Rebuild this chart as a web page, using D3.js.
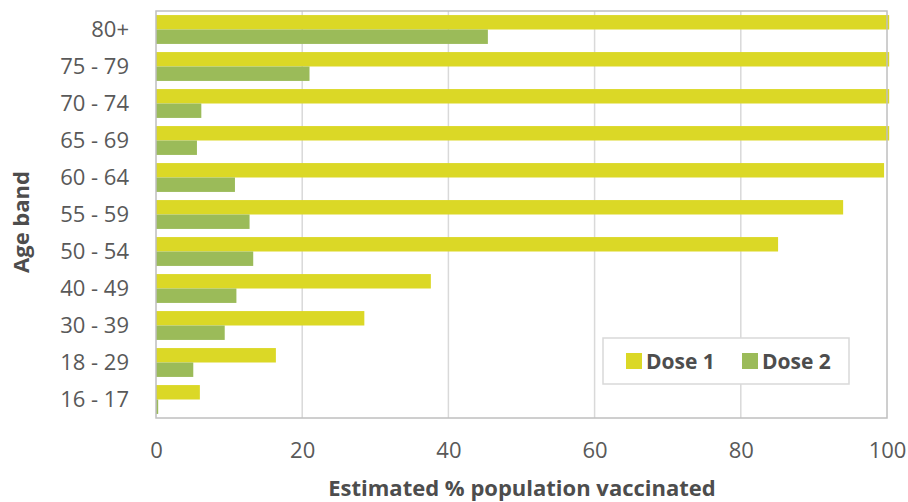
<!DOCTYPE html>
<html>
<head>
<meta charset="utf-8">
<script src="https://cdn.jsdelivr.net/npm/d3@7"></script>
<style>
  body { margin: 0; background: #fff; }
  text { font-family: "Open Sans", sans-serif; fill: #595959; }
</style>
</head>
<body>
<div id="chart"></div>
<script>
// age bands, top to bottom
var ageBands = ["80+", "75 - 79", "70 - 74", "65 - 69", "60 - 64", "55 - 59",
                "50 - 54", "40 - 49", "30 - 39", "18 - 29", "16 - 17"];
var dose1 = [100.3, 100.3, 100.3, 100.3, 99.6, 94.0, 85.1, 37.6, 28.5, 16.4, 6.0];
var dose2 = [45.4, 21.0, 6.2, 5.6, 10.8, 12.8, 13.3, 11.0, 9.4, 5.1, 0.3];
var seriesNames = ["Dose 1", "Dose 2"];
var seriesColors = ["#dbd826", "#9bbb59"];
var xTicks = [0, 20, 40, 60, 80, 100];

var W = 908, H = 502;
var margin = { top: 11, right: 21, bottom: 84, left: 156 };
var width = W - margin.left - margin.right;
var height = H - margin.top - margin.bottom;

var data = ageBands.map(function (d, i) {
    return { band: d, values: [dose1[i], dose2[i]] };
});

var svg = d3.select('#chart')
    .append('svg')
    .attr('width', W)
    .attr('height', H)
    .append('g')
    .attr('transform', `translate(${margin.left}, ${margin.top})`);

var xScale = d3.scaleLinear().domain([0, 100]).range([0, width]);

var yScale = d3.scaleBand()
    .domain(ageBands)
    .range([0, height])
    .paddingInner(0.22)
    .paddingOuter(0.11);

var ySub = d3.scaleBand()
    .domain([0, 1])
    .range([0, yScale.bandwidth()]);

// vertical gridlines
svg.append('g')
    .attr('class', 'grid')
    .selectAll('line')
    .data(xTicks.slice(1, -1))
    .enter()
    .append('line')
    .attr('x1', d => xScale(d))
    .attr('x2', d => xScale(d))
    .attr('y1', 0)
    .attr('y2', height)
    .attr('stroke', '#d9d9d9')
    .attr('stroke-width', 1.5);

// bars
var groups = svg.selectAll('.band')
    .data(data)
    .enter()
    .append('g')
    .attr('class', 'band')
    .attr('transform', d => `translate(0, ${yScale(d.band)})`);

groups.selectAll('rect')
    .data(d => d.values)
    .enter()
    .append('rect')
    .attr('x', 0)
    .attr('y', (d, i) => ySub(i))
    .attr('width', d => xScale(d))
    .attr('height', ySub.bandwidth())
    .style('fill', (d, i) => seriesColors[i]);

// plot frame
svg.append('rect')
    .attr('x', 0)
    .attr('y', 0)
    .attr('width', width)
    .attr('height', height)
    .attr('fill', 'none')
    .attr('stroke', '#bfbfbf')
    .attr('stroke-width', 1.5);

// x axis
var xAxis = d3.axisBottom(xScale)
    .tickValues(xTicks)
    .tickSize(0)
    .tickPadding(24);

svg.append('g')
    .attr('class', 'x axis')
    .attr('transform', `translate(0, ${height})`)
    .call(xAxis)
    .call(g => g.select('.domain').remove())
    .selectAll('text')
    .style('font-size', '22px')
    .style('font-family', '"Open Sans", sans-serif')
    .attr('fill', '#595959');

// y axis
var yAxis = d3.axisLeft(yScale)
    .tickSize(0)
    .tickPadding(27);

svg.append('g')
    .attr('class', 'y axis')
    .call(yAxis)
    .call(g => g.select('.domain').remove())
    .selectAll('text')
    .style('font-size', '22px')
    .style('font-family', '"Open Sans", sans-serif')
    .attr('fill', '#595959');

// axis titles
svg.append('text')
    .attr('x', 366)
    .attr('y', height + 78)
    .attr('text-anchor', 'middle')
    .style('font-size', '22px')
    .style('font-weight', 'bold')
    .style('fill', '#4d4d4d')
    .text('Estimated % population vaccinated');

svg.append('text')
    .attr('transform', `translate(${29 - margin.left}, ${211}) rotate(-90)`)
    .attr('text-anchor', 'middle')
    .style('font-size', '22px')
    .style('font-weight', 'bold')
    .style('fill', '#4d4d4d')
    .text('Age band');

// legend
var legend = svg.append('g')
    .attr('transform', `translate(${603 - margin.left}, ${338 - margin.top})`);

legend.append('rect')
    .attr('width', 246)
    .attr('height', 46)
    .attr('fill', '#fff')
    .attr('stroke', '#d9d9d9')
    .attr('stroke-width', 1.5);

var items = legend.selectAll('.item')
    .data(seriesNames)
    .enter()
    .append('g')
    .attr('class', 'item')
    .attr('transform', (d, i) => `translate(${23 + i * 116}, 15)`);

items.append('rect')
    .attr('width', 16)
    .attr('height', 16)
    .style('fill', (d, i) => seriesColors[i]);

items.append('text')
    .attr('x', 20)
    .attr('y', 16)
    .style('font-size', '21px')
    .style('font-weight', 'bold')
    .style('fill', '#4d4d4d')
    .text(d => d);
</script>
</body>
</html>
